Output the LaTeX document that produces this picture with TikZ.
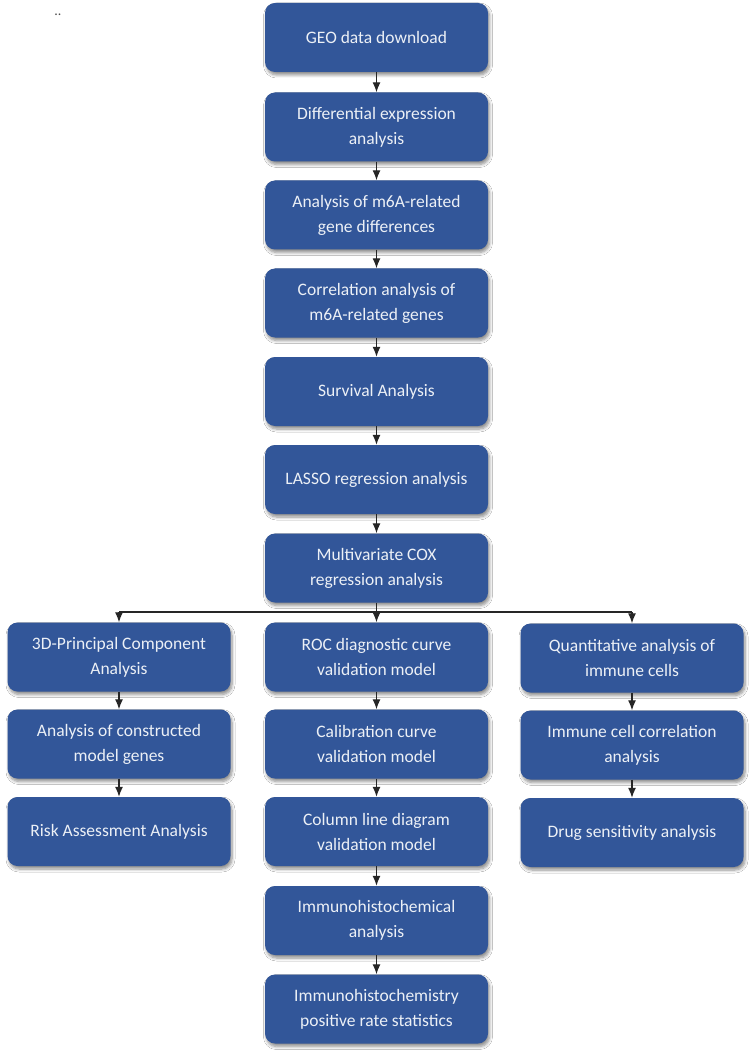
\documentclass[tikz,border=0pt]{standalone}
\usepackage{fontspec}
\setmainfont{Carlito}
\usetikzlibrary{arrows.meta,shadows.blur}
\definecolor{boxblue}{RGB}{50,86,153}
\definecolor{boxtext}{RGB}{236,240,246}
\tikzset{
  stepbox/.style={draw=none, fill=boxblue, rounded corners=10pt, minimum width=223pt, minimum height=69pt,
    align=center, text=boxtext, font=\fontsize{17.5}{25}\selectfont,
    blur shadow={shadow xshift=1.5pt, shadow yshift=-3pt, shadow blur steps=6, shadow opacity=45, shadow blur radius=3pt}},
  conn/.style={draw=black!85, line width=1.3pt, -{Latex[length=10pt,width=8pt]}},
  line/.style={draw=black!85, line width=1.3pt}
}
\begin{document}
\begin{tikzpicture}[x=1pt,y=-1pt]
\useasboundingbox (0,0) rectangle (749,1056);
\fill[white] (0,0) rectangle (749,1056);
\node[font=\fontsize{14}{14}\selectfont, text=black!70] (dots) at (58,15) {..};
% center column
\node[stepbox] (b1) at (376.5,37.5) {GEO data download};
\node[stepbox] (b2) at (376.5,127) {Differential expression\\analysis};
\node[stepbox] (b3) at (376.5,215) {Analysis of m6A-related\\gene differences};
\node[stepbox] (b4) at (376.5,303) {Correlation analysis of\\m6A-related genes};
\node[stepbox] (b5) at (376.5,391.5) {Survival Analysis};
\node[stepbox] (b6) at (376.5,479.5) {LASSO regression analysis};
\node[stepbox] (b7) at (376.5,568) {Multivariate COX\\regression analysis};
% left column
\node[stepbox] (l1) at (119,657) {3D-Principal Component\\Analysis};
\node[stepbox] (l2) at (119,744) {Analysis of constructed\\model genes};
\node[stepbox] (l3) at (119,831.5) {Risk Assessment Analysis};
% middle column
\node[stepbox] (c1) at (376.5,657) {ROC diagnostic curve\\validation model};
\node[stepbox] (c2) at (376.5,744) {Calibration curve\\validation model};
\node[stepbox] (c3) at (376.5,831.5) {Column line diagram\\validation model};
\node[stepbox] (c4) at (376.5,920.5) {Immunohistochemical\\analysis};
\node[stepbox] (c5) at (376.5,1009) {Immunohistochemistry\\positive rate statistics};
% right column
\node[stepbox] (r1) at (632,658) {Quantitative analysis of\\immune cells};
\node[stepbox] (r2) at (632,745) {Immune cell correlation\\analysis};
\node[stepbox] (r3) at (632,832.5) {Drug sensitivity analysis};
% connectors
\draw[conn] (b1) -- (b2);
\draw[conn] (b2) -- (b3);
\draw[conn] (b3) -- (b4);
\draw[conn] (b4) -- (b5);
\draw[conn] (b5) -- (b6);
\draw[conn] (b6) -- (b7);
\coordinate (br) at (376.5,612);
\draw[conn] (b7) -- (c1);
\draw[line] (l1.north |- br) -- (r1.north |- br);
\draw[conn] (l1.north |- br) -- (l1.north);
\draw[conn] (r1.north |- br) -- (r1.north);
\draw[conn] (l1) -- (l2);
\draw[conn] (l2) -- (l3);
\draw[conn] (c1) -- (c2);
\draw[conn] (c2) -- (c3);
\draw[conn] (c3) -- (c4);
\draw[conn] (c4) -- (c5);
\draw[conn] (r1) -- (r2);
\draw[conn] (r2) -- (r3);
\end{tikzpicture}
\end{document}
